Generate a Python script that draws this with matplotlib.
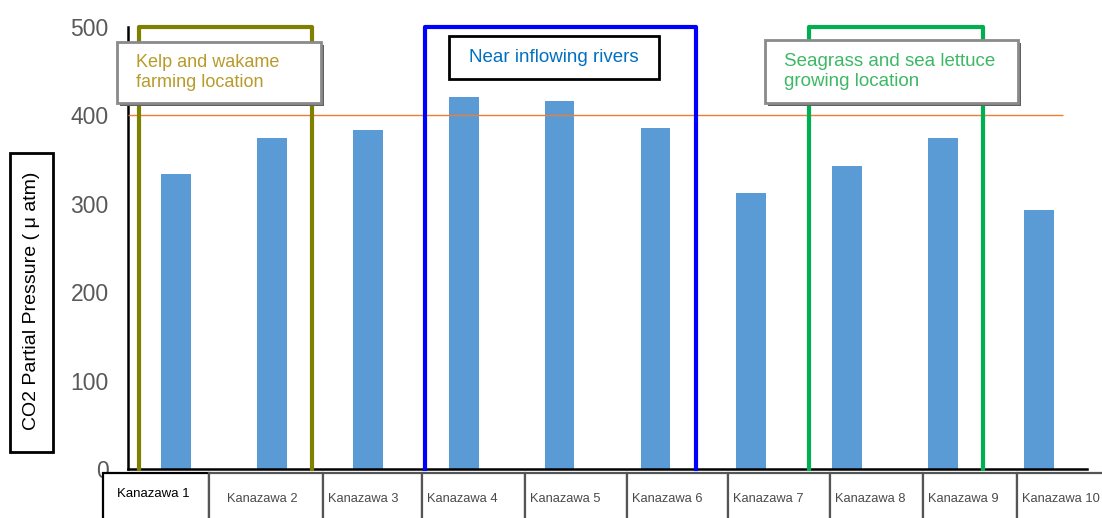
import matplotlib
matplotlib.use("Agg")
import matplotlib.pyplot as plt
from matplotlib.patches import Rectangle

plt.rcParams['font.family'] = ['Liberation Sans', 'DejaVu Sans']

# data
sites = ['Kanazawa 1', 'Kanazawa 2', 'Kanazawa 3', 'Kanazawa 4', 'Kanazawa 5',
         'Kanazawa 6', 'Kanazawa 7', 'Kanazawa 8', 'Kanazawa 9', 'Kanazawa 10']
co2 = [334, 374, 384, 421, 416, 386, 312, 343, 374, 293]
y_ticks = [0, 100, 200, 300, 400, 500]
reference_level = 400

# groups: (label, first site index, last site index, frame colour, text colour)
groups = [
    ('Kelp and wakame\nfarming location', 0, 1, '#808000', '#B89B2A'),
    ('Near inflowing rivers', 3, 5, '#0000FF', '#0070C0'),
    ('Seagrass and sea lettuce\ngrowing location', 7, 8, '#00B050', '#3DB865'),
]

W, H = 1102, 518
fig = plt.figure(figsize=(W / 100, H / 100), dpi=100)


def fx(px):
    return px / W


def fy(py):
    return 1 - py / H


ax = fig.add_axes([fx(128), fy(469), fx(1087) - fx(128), fy(27) - fy(469)])
x = list(range(len(sites)))
ax.bar(x, co2, width=0.31, color='#5B9BD5', zorder=2)
ax.set_xlim(-0.5, 9.5)
ax.set_ylim(0, 500)
ax.set_yticks(y_ticks)
ax.set_yticklabels([str(t) for t in y_ticks], fontsize=16.5, color='#595959')
ax.tick_params(axis='y', length=0, pad=14)
ax.set_xticks([])
for s in ['top', 'right']:
    ax.spines[s].set_visible(False)
for s in ['left', 'bottom']:
    ax.spines[s].set_linewidth(1.8)
    ax.spines[s].set_color('black')

# reference line at 400
ax.hlines(reference_level, -0.5, 9.25, color='#ED7D31', lw=1, zorder=3)

# group frames, open at the bottom
for label, i0, i1, fcol, tcol in groups:
    left = x[i0] - 0.39 if i0 == 0 else x[i0] - 0.4
    right = x[i1] + 0.42
    ax.plot([left, left, right, right], [0, 500, 500, 0], color=fcol,
            lw=3, zorder=4, clip_on=False, solid_joinstyle='round')

# label boxes, in pixel positions of the picture
label_boxes = [
    (117, 42, 321, 103, 136, 'left', '#8a8a8a', True, 13),
    (449, 36, 659, 79, 554, 'center', 'black', False, 13.5),
    (765, 40, 1018, 103, 784, 'left', '#8a8a8a', True, 13.5),
]
for (x0, y0, x1, y1, tx, ha, ecol, shadow, fs), grp in zip(label_boxes, groups):
    if shadow:
        fig.add_artist(Rectangle((fx(x0 + 3), fy(y1 + 3)), fx(x1 - x0), fy(y0) - fy(y1),
                                 transform=fig.transFigure, facecolor='#606060',
                                 edgecolor='none', zorder=5))
    fig.add_artist(Rectangle((fx(x0), fy(y1)), fx(x1 - x0), fy(y0) - fy(y1),
                             transform=fig.transFigure, facecolor='white',
                             edgecolor=ecol, lw=2, zorder=6))
    fig.text(fx(tx), fy((y0 + y1) / 2), grp[0], ha=ha, va='center',
             color=grp[4], fontsize=fs, linespacing=1.2, zorder=7)

# y label in a box
fig.add_artist(Rectangle((fx(10), fy(452)), fx(43), fy(153) - fy(452),
                         transform=fig.transFigure, facecolor='white',
                         edgecolor='black', lw=2, zorder=5))
fig.text(fx(32), fy(301), 'CO2 Partial Pressure ( \u03bc atm)', rotation=90,
         ha='center', va='center', fontsize=14, color='black', zorder=6)

# category label cells under the axis
cell_edges = [103, 209, 323, 422, 525, 627, 728, 830, 923, 1017, 1110]
for i, name in enumerate(sites):
    c0, c1 = cell_edges[i], cell_edges[i + 1]
    fig.add_artist(Rectangle((fx(c0), fy(530)), fx(c1 - c0), fy(473) - fy(530),
                             transform=fig.transFigure, facecolor='white',
                             edgecolor='black' if i == 0 else '#555555',
                             lw=1.6, zorder=5))
    if i == 0:
        fig.text(fx((c0 + c1) / 2 - 3), fy(494), name, ha='center', va='center',
                 fontsize=9.5, color='black', zorder=6)
    else:
        off = 18 if i == 1 else 5
        fig.text(fx(c0 + off), fy(499), name, ha='left', va='center',
                 fontsize=9.3, color='#4a4a4a', zorder=6)

fig.savefig('out.png', dpi=100)
